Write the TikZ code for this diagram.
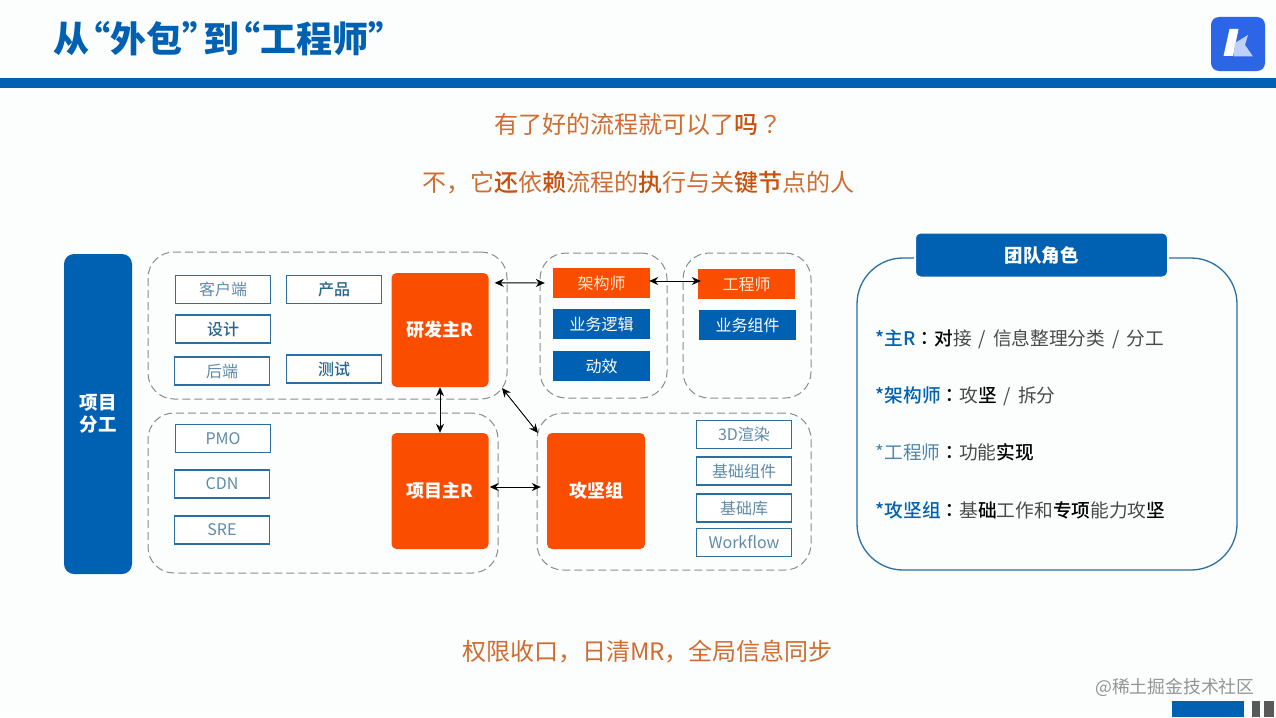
\documentclass[tikz,border=0pt]{standalone}
\usepackage{fontspec}
\setmainfont{Noto Sans CJK SC}
\newfontfamily\medfont{Noto Sans CJK SC Medium}
\newfontfamily\tcfont{Noto Sans CJK TC}
\newfontfamily\tcmedfont{Noto Sans CJK TC Medium}
\usetikzlibrary{arrows.meta}
\usetikzlibrary{shapes,positioning}
\definecolor{pagewhite}{HTML}{FBFEFD}
\definecolor{barblue}{HTML}{0060B2}
\definecolor{logoblue}{HTML}{2C66E6}
\definecolor{rorange}{HTML}{FB4D00}
\definecolor{headorange}{HTML}{D06C30}
\definecolor{darkorange}{HTML}{C9500C}
\definecolor{edgeblue}{HTML}{2B6E9F}
\definecolor{softblue}{HTML}{5F8BA9}
\definecolor{deepblue}{HTML}{24668F}
\definecolor{rolegray}{HTML}{4A4A4A}
\definecolor{rolelight}{HTML}{4F86AE}
\newcommand{\fs}[1]{\fontsize{#1}{#1}\selectfont}
\newcommand{\ob}[1]{\textcolor{darkorange}{{\medfont #1}}}
\newcommand{\rb}[1]{\textcolor{barblue}{{\medfont #1}}}
\newcommand{\kb}[1]{\textcolor{black}{{\medfont #1}}}
\newcommand{\opq}{\hspace*{-15pt}“}
\newcommand{\clq}{”\hspace*{-15pt}}
\newcommand{\rolecolon}{\textcolor{black}{{\tcmedfont ：}}}
\newcommand{\slashsep}{\hspace*{7pt}/\hspace*{7pt}}
\tikzset{
  groupbox/.style={draw=black!45,dashed,dash pattern=on 8pt off 4pt,line width=1pt,rounded corners=26pt,inner sep=0pt},
  whitebox/.style={draw=edgeblue,fill=white,line width=1.4pt,minimum width=95pt,minimum height=28pt,inner sep=0pt,text=softblue,font=\fs{16}},
  darkbox/.style={whitebox,text=deepblue,font=\fs{16}\medfont},
  smallorange/.style={fill=rorange,minimum width=97pt,minimum height=30pt,inner sep=0pt,text=white!85!orange,font=\fs{16}},
  smallblue/.style={fill=barblue,minimum width=97pt,minimum height=30pt,inner sep=0pt,text=white,font=\fs{16}},
  bigorange/.style={fill=rorange,rounded corners=5pt,inner sep=0pt,text=white,font=\fs{18}\bfseries},
  headline/.style={text=headorange,inner sep=0pt,font=\fs{24}},
  roleline/.style={anchor=west,inner sep=0pt,text=rolegray,text height=15pt,text depth=4pt,font=\fs{18.7}},
  link/.style={{Stealth[length=9pt,width=8pt]}-{Stealth[length=9pt,width=8pt]},line width=0.9pt,black},
}
\begin{document}
\begin{tikzpicture}[x=1pt,y=-1pt]
  \useasboundingbox (0,0) rectangle (1276,717);
  \fill[pagewhite] (0,0) rectangle (1276,717);

  % title and top bar
  \node (title) [anchor=west,inner sep=0pt,text=barblue,font=\fs{36}\bfseries] at (53,39) {从\opq 外包\clq 到\opq 工程师\clq};
  \fill[barblue] (0,78) rectangle (1276,88);
  \fill[logoblue,rounded corners=8pt] (1211,17) rectangle (1265,71);
  \fill[white] (1229.5,29) -- (1238.5,29) -- (1233,56) -- (1223.5,56) -- cycle;
  \fill[white!70!logoblue] (1235,43) -- (1248,35) -- (1245,45) -- (1253,56.5) -- (1233.5,56.5) -- cycle;

  \node (question) [headline] at (638,124) {有了好的流程就可以了\ob{吗}{\tcfont ？}};
  \node (answer) [headline] at (638.5,183) {不，它\ob{还}依\ob{赖}流程的\ob{执}行与关\ob{键节}点的人};

  % left column
  \node (team) [fill=barblue,rounded corners=10pt,minimum width=68pt,minimum height=320pt,inner sep=0pt,align=center,text=white,font=\fs{18.5}\bfseries] at (98,414) {项目\\[4pt]分工};

  % dashed groups
  \node (groupdev) [groupbox,minimum width=359pt,minimum height=147pt] at (327.5,325.5) {};
  \node (groupproj) [groupbox,minimum width=350pt,minimum height=160pt] at (323,493) {};
  \node (grouparch) [groupbox,minimum width=127pt,minimum height=145pt] at (603.5,325.5) {};
  \node (groupeng) [groupbox,minimum width=128pt,minimum height=145pt] at (747,325.5) {};
  \node (groupcore) [groupbox,minimum width=274pt,minimum height=157pt] at (674,491.5) {};

  % white boxes
  \node (client) [whitebox] at (223,289.5) {客户端};
  \node (product) [darkbox] at (334,289.5) {产品};
  \node (design) [darkbox] at (223,329) {设计};
  \node (backend) [whitebox] at (222,371) {后端};
  \node (qa) [darkbox] at (334,369) {测试};
  \node (pmo) [whitebox] at (223,438.5) {PMO};
  \node (cdn) [whitebox] at (222,484) {CDN};
  \node (sre) [whitebox] at (222,530) {SRE};

  \node (devr) [bigorange,minimum width=97pt,minimum height=114pt] at (440,330) {研发主R};
  \node (projr) [bigorange,minimum width=97pt,minimum height=116pt] at (440,491) {项目主R};
  \node (corer) [bigorange,minimum width=98pt,minimum height=116pt] at (596,491) {攻坚组};

  \node (arch) [smallorange] at (601.5,283) {架构师};
  \node (logic) [smallblue] at (601.5,324) {业务逻辑};
  \node (motion) [smallblue] at (601.5,366) {动效};
  \node (eng) [smallorange] at (746.5,284) {工程师};
  \node (comp) [smallblue] at (747.5,325) {业务组件};

  \node (render) [whitebox] at (744,434.5) {3D渲染};
  \node (basecomp) [whitebox] at (744,471) {基础组件};
  \node (baselib) [whitebox] at (744,508) {基础库};
  \node (workflow) [whitebox] at (744,542.5) {Workflow};

  % links
  \coordinate (diagtop) at (502,388);
  \coordinate (diagbot) at (538,433);
  \draw[link,shorten <=6pt,shorten >=8pt] ([yshift=-10pt]devr.north east) -- (arch.west);
  \draw[link,shorten <=-1pt,shorten >=-3pt] ([yshift=2pt]arch.east) -- ([yshift=3pt]eng.west);
  \draw[link] (devr.south) -- (projr.north);
  \draw[link] (diagtop) -- (diagbot);
  \draw[link,shorten <=1pt,shorten >=6pt] ([yshift=4pt]projr.east) -- ([yshift=4pt]corer.west);

  % team roles
  \node (rolebox) [draw=edgeblue,rounded corners=46pt,line width=1.3pt,minimum width=380pt,minimum height=312pt,inner sep=0pt] at (1047,414) {};
  \node (rolehead) [draw=white,line width=2pt,fill=barblue,rounded corners=6pt,minimum width=253pt,minimum height=45pt,inner sep=0pt,text=white,font=\fs{18.5}\bfseries] at (1041.5,255) {团队角色};
  \node (rolemain) [roleline] at (875.5,340) {\rb{*主R}\rolecolon\kb{对}接\slashsep 信息整理分类\slashsep 分工};
  \node (rolearch) [roleline] at (875.5,397) {\rb{*架构师}\rolecolon 攻\kb{坚}\slashsep 拆分};
  \node (roleeng) [roleline] at (875.5,454) {\textcolor{rolelight}{*工程师}\rolecolon 功能\kb{实现}};
  \node (rolecore) [roleline] at (875.5,512) {\rb{*攻坚组}\rolecolon 基\kb{础}工作和\kb{专项}能力攻\kb{坚}};

  \node (summary) [headline] at (647.5,652) {权限收口，日清MR，全局信息同步};

  % corner
  \node (mark) [anchor=west,inner sep=0pt,text=black!42,font=\fs{17.8}] at (1095,687) {@稀土掘金技术社区};
  \fill[barblue] (1172,701) rectangle (1244,717);
  \fill[black!65] (1252,701) rectangle (1260,717);
  \fill[black!65] (1264,701) rectangle (1274,717);
\end{tikzpicture}
\end{document}
